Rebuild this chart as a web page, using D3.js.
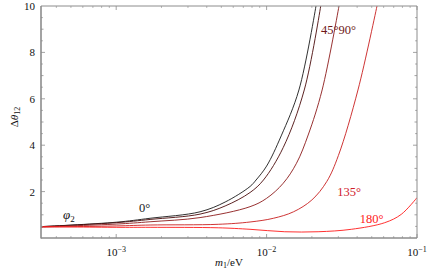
<!DOCTYPE html>
<html>
<head>
<meta charset="utf-8">
<script src="https://cdn.jsdelivr.net/npm/d3@7"></script>
<style>
  html, body { margin: 0; padding: 0; background: #fff; }
  svg { display: block; }
  svg text { font-family: "Liberation Serif", "Times New Roman", "DejaVu Serif", serif; }
</style>
</head>
<body>
<svg id="chart" width="436" height="270"></svg>
<script>
// ---- data ----
const xTicks = [1e-3, 1e-2, 1e-1];
const xTickExp = ["3", "2", "1"];
const yTicks = [2, 4, 6, 8, 10];

const m1_0   = [3.16e-4, 1e-3, 1.68e-3, 3.61e-3, 5.3e-3, 7.76e-3, 8.51e-3, 1e-2, 1.25e-2, 1.64e-2, 2.13e-2];
const dth_0  = [0.49, 0.68, 0.85, 1.13, 1.55, 2.22, 2.50, 3.10, 4.40, 6.38, 10.0];

const m1_45  = [3.16e-4, 1e-3, 1.68e-3, 3.61e-3, 5.3e-3, 7.76e-3, 9.53e-3, 1.29e-2, 1.78e-2, 2.29e-2];
const dth_45 = [0.49, 0.66, 0.80, 1.03, 1.38, 1.96, 2.50, 3.90, 6.38, 10.0];

const m1_90  = [3.16e-4, 1e-3, 1.68e-3, 3.61e-3, 7.76e-3, 1e-2, 1.29e-2, 1.58e-2, 1.89e-2, 2.34e-2, 3.03e-2];
const dth_90 = [0.48, 0.60, 0.70, 0.88, 1.35, 1.71, 2.36, 3.22, 4.44, 6.38, 10.0];

const m1_135  = [3.16e-4, 1e-3, 1.68e-3, 4.77e-3, 7.76e-3, 1.11e-2, 1.51e-2, 2.0e-2, 2.51e-2, 3.0e-2, 4.05e-2, 5.42e-2];
const dth_135 = [0.47, 0.52, 0.56, 0.59, 0.69, 0.85, 1.13, 1.64, 2.43, 3.55, 6.38, 10.0];

const m1_180  = [3.16e-4, 1e-3, 1.68e-3, 4.77e-3, 7.76e-3, 1.32e-2, 2.2e-2, 3.66e-2, 6.1e-2, 7.86e-2, 1e-1];
const dth_180 = [0.49, 0.46, 0.46, 0.44, 0.375, 0.27, 0.27, 0.375, 0.66, 1.02, 1.74];

const seriesNames  = ["0°", "45°", "90°", "135°", "180°"];
const seriesColors = ["#1a1a1a", "#4a0a0a", "#8c1a1a", "#c81e1e", "#ff1a1a"];

// ---- layout ----
const FONT = "'Liberation Serif', 'Times New Roman', 'DejaVu Serif', serif";
const svg = d3.select("#chart");
const L = 41, R = 417, T = 6, B = 238;

const x = d3.scaleLog().domain([Math.pow(10, -3.5), 0.1]).range([L, R]);
const y = d3.scaleLinear().domain([0, 10]).range([B, T]);

const frameColor = "#8c8c8c";

// curves
const series = [
  {m: m1_0, v: dth_0},
  {m: m1_45, v: dth_45},
  {m: m1_90, v: dth_90},
  {m: m1_135, v: dth_135},
  {m: m1_180, v: dth_180}
];
const line = d3.line()
  .x(d => x(d[0]))
  .y(d => y(d[1]))
  .curve(d3.curveCatmullRom.alpha(0.5));

svg.append("defs").append("clipPath").attr("id", "clip")
  .append("rect").attr("x", L).attr("y", T).attr("width", R - L).attr("height", B - T);

const g = svg.append("g").attr("clip-path", "url(#clip)");
series.forEach((s, i) => {
  g.append("path")
    .datum(s.m.map((m, k) => [m, s.v[k]]))
    .attr("fill", "none")
    .attr("stroke", seriesColors[i])
    .attr("stroke-width", 0.9)
    .attr("d", line);
});

// frame
svg.append("line").attr("x1", L).attr("x2", R).attr("y1", T).attr("y2", T)
  .attr("stroke", frameColor).attr("stroke-width", 1);
svg.append("line").attr("x1", R).attr("x2", R).attr("y1", T).attr("y2", B)
  .attr("stroke", frameColor).attr("stroke-width", 1);
svg.append("line").attr("x1", L).attr("x2", L).attr("y1", T).attr("y2", B + 0.5)
  .attr("stroke", frameColor).attr("stroke-width", 1.6);
svg.append("line").attr("x1", L).attr("x2", R).attr("y1", B).attr("y2", B)
  .attr("stroke", frameColor).attr("stroke-width", 1.6);

// y axis ticks (left, inward) and right ticks
const yMinor = d3.range(0.5, 10, 0.5);
yMinor.forEach(v => {
  const major = (v % 2 === 0);
  const len = major ? 4 : (v % 1 === 0 ? 2.5 : 1.8);
  svg.append("line").attr("x1", L).attr("x2", L + len).attr("y1", y(v)).attr("y2", y(v))
    .attr("stroke", frameColor).attr("stroke-width", 0.8);
  svg.append("line").attr("x1", R).attr("x2", R - len).attr("y1", y(v)).attr("y2", y(v))
    .attr("stroke", frameColor).attr("stroke-width", 0.8);
});

// y tick labels
svg.append("g").selectAll("text").data(yTicks).join("text")
  .attr("x", L - 6).attr("y", d => y(d) + 4)
  .attr("text-anchor", "end").attr("font-size", 11).attr("fill", "#111")
  .attr("font-family", FONT)
  .text(d => d);

// x ticks
xTicks.forEach(v => {
  svg.append("line").attr("x1", x(v)).attr("x2", x(v)).attr("y1", B).attr("y2", B - 4)
    .attr("stroke", frameColor).attr("stroke-width", 0.8);
  svg.append("line").attr("x1", x(v)).attr("x2", x(v)).attr("y1", T).attr("y2", T + 4)
    .attr("stroke", frameColor).attr("stroke-width", 0.8);
});
// minor log ticks
const minors = [];
[1e-4, 1e-3, 1e-2].forEach(dec => { for (let k = 2; k <= 9; k++) minors.push(dec * k); });
minors.filter(v => v >= x.domain()[0] && v <= x.domain()[1]).forEach(v => {
  svg.append("line").attr("x1", x(v)).attr("x2", x(v)).attr("y1", B).attr("y2", B - 2)
    .attr("stroke", frameColor).attr("stroke-width", 0.6);
  svg.append("line").attr("x1", x(v)).attr("x2", x(v)).attr("y1", T).attr("y2", T + 2)
    .attr("stroke", frameColor).attr("stroke-width", 0.6);
});

// x tick labels 10^n
xTicks.forEach((v, i) => {
  const t = svg.append("text").attr("x", x(v)).attr("y", 256)
    .attr("text-anchor", "middle").attr("font-size", 11).attr("fill", "#111")
    .attr("font-family", FONT);
  t.append("tspan").text("10");
  t.append("tspan").attr("dy", -4).attr("font-size", 8).text("−" + xTickExp[i]);
});

// axis titles
const xt = svg.append("text").attr("x", 229).attr("y", 266)
  .attr("text-anchor", "middle").attr("font-size", 11).attr("fill", "#111")
  .attr("font-family", FONT);
xt.append("tspan").attr("font-style", "italic").text("m");
xt.append("tspan").attr("dy", 2).attr("font-size", 8).text("1");
xt.append("tspan").attr("dy", -2).text("/eV");

const yt = svg.append("text").attr("transform", "translate(18," + 117 + ") rotate(-90)")
  .attr("text-anchor", "middle").attr("font-size", 11).attr("fill", "#111")
  .attr("font-family", FONT);
yt.append("tspan").text("Δ");
yt.append("tspan").attr("font-style", "italic").text("θ");
yt.append("tspan").attr("dy", 2).attr("font-size", 8).text("12");

// in-plot labels
const labels = [
  {t: "0°",     x: 1.42e-3, y: 1.14, c: seriesColors[0]},
  {t: "45°90°", x: 2.3e-2,  y: 8.78, c: "#6e1818"},
  {t: "135°",   x: 2.95e-2, y: 1.81, c: "#d0202c"},
  {t: "180°",   x: 4.16e-2, y: 0.65, c: "#ff2020"}
];
labels.forEach(l => {
  svg.append("text").attr("x", x(l.x)).attr("y", y(l.y))
    .attr("font-size", 12.5).attr("fill", l.c).attr("font-family", FONT).text(l.t);
});
const phi = svg.append("text").attr("x", 63).attr("y", 219).attr("font-size", 13)
  .attr("fill", "#111").attr("font-family", FONT);
phi.append("tspan").attr("font-style", "italic").text("φ");
phi.append("tspan").attr("dy", 3).attr("font-size", 9).text("2");
</script>
</body>
</html>
